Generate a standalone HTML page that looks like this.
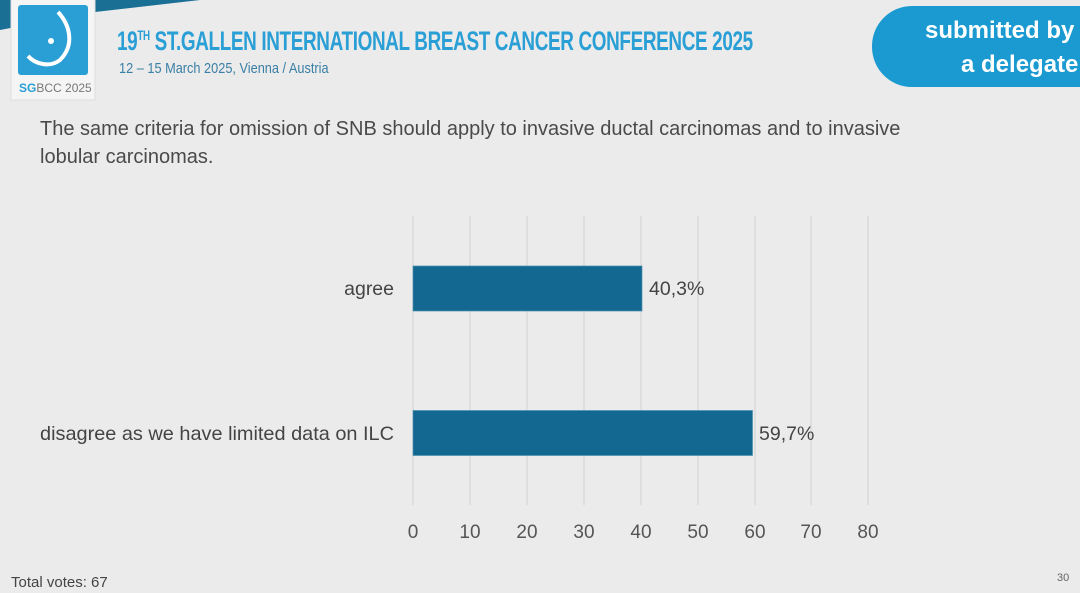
<!DOCTYPE html>
<html><head><meta charset="utf-8"><style>
body{margin:0;width:1080px;height:593px;background:#ebebeb;position:relative;overflow:hidden;font-family:"Liberation Sans",sans-serif}
.a{position:absolute}
</style></head><body>
<svg class="a" style="left:0;top:0" width="1080" height="593">
<polygon points="0,0 200,0 95,12 0,30" fill="#1a6f95"/>
<rect x="11" y="-4" width="84" height="104" fill="#f5f5f5" stroke="#ddd"/>
<rect x="18" y="5" width="70" height="70" rx="3" fill="#2a9fd6"/>
<path d="M58,12 C70,25 75,45 60,60 C50,68 35,64 28,56" stroke="#fff" stroke-width="4" fill="none"/>
<circle cx="51" cy="41" r="3" fill="#fff"/>
<text x="19" y="92" font-size="12" fill="#2a9fd6" font-weight="bold">SG<tspan fill="#777" font-weight="normal">BCC 2025</tspan></text>
<rect x="872" y="6" width="260" height="81" rx="40" fill="#1a9ad0"/>
<g stroke="#d2d2d2" stroke-width="1">
<line x1="413" y1="216" x2="413" y2="505"/><line x1="470" y1="216" x2="470" y2="505"/><line x1="527" y1="216" x2="527" y2="505"/><line x1="584" y1="216" x2="584" y2="505"/><line x1="641" y1="216" x2="641" y2="505"/><line x1="698" y1="216" x2="698" y2="505"/><line x1="755" y1="216" x2="755" y2="505"/><line x1="811" y1="216" x2="811" y2="505"/><line x1="868" y1="216" x2="868" y2="505"/>
</g>
<rect x="413" y="266" width="229" height="45" fill="#126890" stroke="#4a90b0" stroke-width="0.7"/>
<rect x="413" y="410.5" width="339.5" height="45" fill="#126890" stroke="#4a90b0" stroke-width="0.7"/>
<g font-size="19" fill="#555" text-anchor="middle">
<text x="413" y="538">0</text><text x="470" y="538">10</text><text x="527" y="538">20</text><text x="584" y="538">30</text><text x="641" y="538">40</text><text x="698" y="538">50</text><text x="755" y="538">60</text><text x="811" y="538">70</text><text x="868" y="538">80</text>
</g>
<g font-size="19.5" fill="#444">
<text x="649" y="295">40,3%</text><text x="759" y="440">59,7%</text>
<text x="394" y="295" text-anchor="end">agree</text>
<text x="394" y="440" text-anchor="end" textLength="354" lengthAdjust="spacingAndGlyphs">disagree as we have limited data on ILC</text>
</g>
</svg>
<div class="a" style="left:117px;top:26px;font-size:27px;font-weight:bold;color:#2a9fd6;transform:scaleX(0.70);transform-origin:left;white-space:nowrap;letter-spacing:-0.5px">19<sup style="font-size:14px">TH</sup> ST.GALLEN INTERNATIONAL BREAST CANCER CONFERENCE 2025</div>
<div class="a" style="left:119px;top:60px;font-size:15px;color:#3a7fa5;transform:scaleX(0.85);transform-origin:left;white-space:nowrap">12 – 15 March 2025, Vienna / Austria</div>
<div class="a" style="left:925px;top:17px;font-size:24px;font-weight:bold;color:#fff;white-space:nowrap">submitted by</div>
<div class="a" style="left:961px;top:51px;font-size:24px;font-weight:bold;color:#fff;white-space:nowrap">a delegate</div>
<div class="a" style="left:40px;top:115px;font-size:20px;color:#4a4a4a;line-height:28px;width:880px">The same criteria for omission of SNB should apply to invasive ductal carcinomas and to invasive lobular carcinomas.</div>
<div class="a" style="left:11px;top:574px;font-size:15px;color:#444">Total votes: 67</div>
<div class="a" style="left:1057px;top:572px;font-size:11px;color:#666">30</div>
</body></html>
